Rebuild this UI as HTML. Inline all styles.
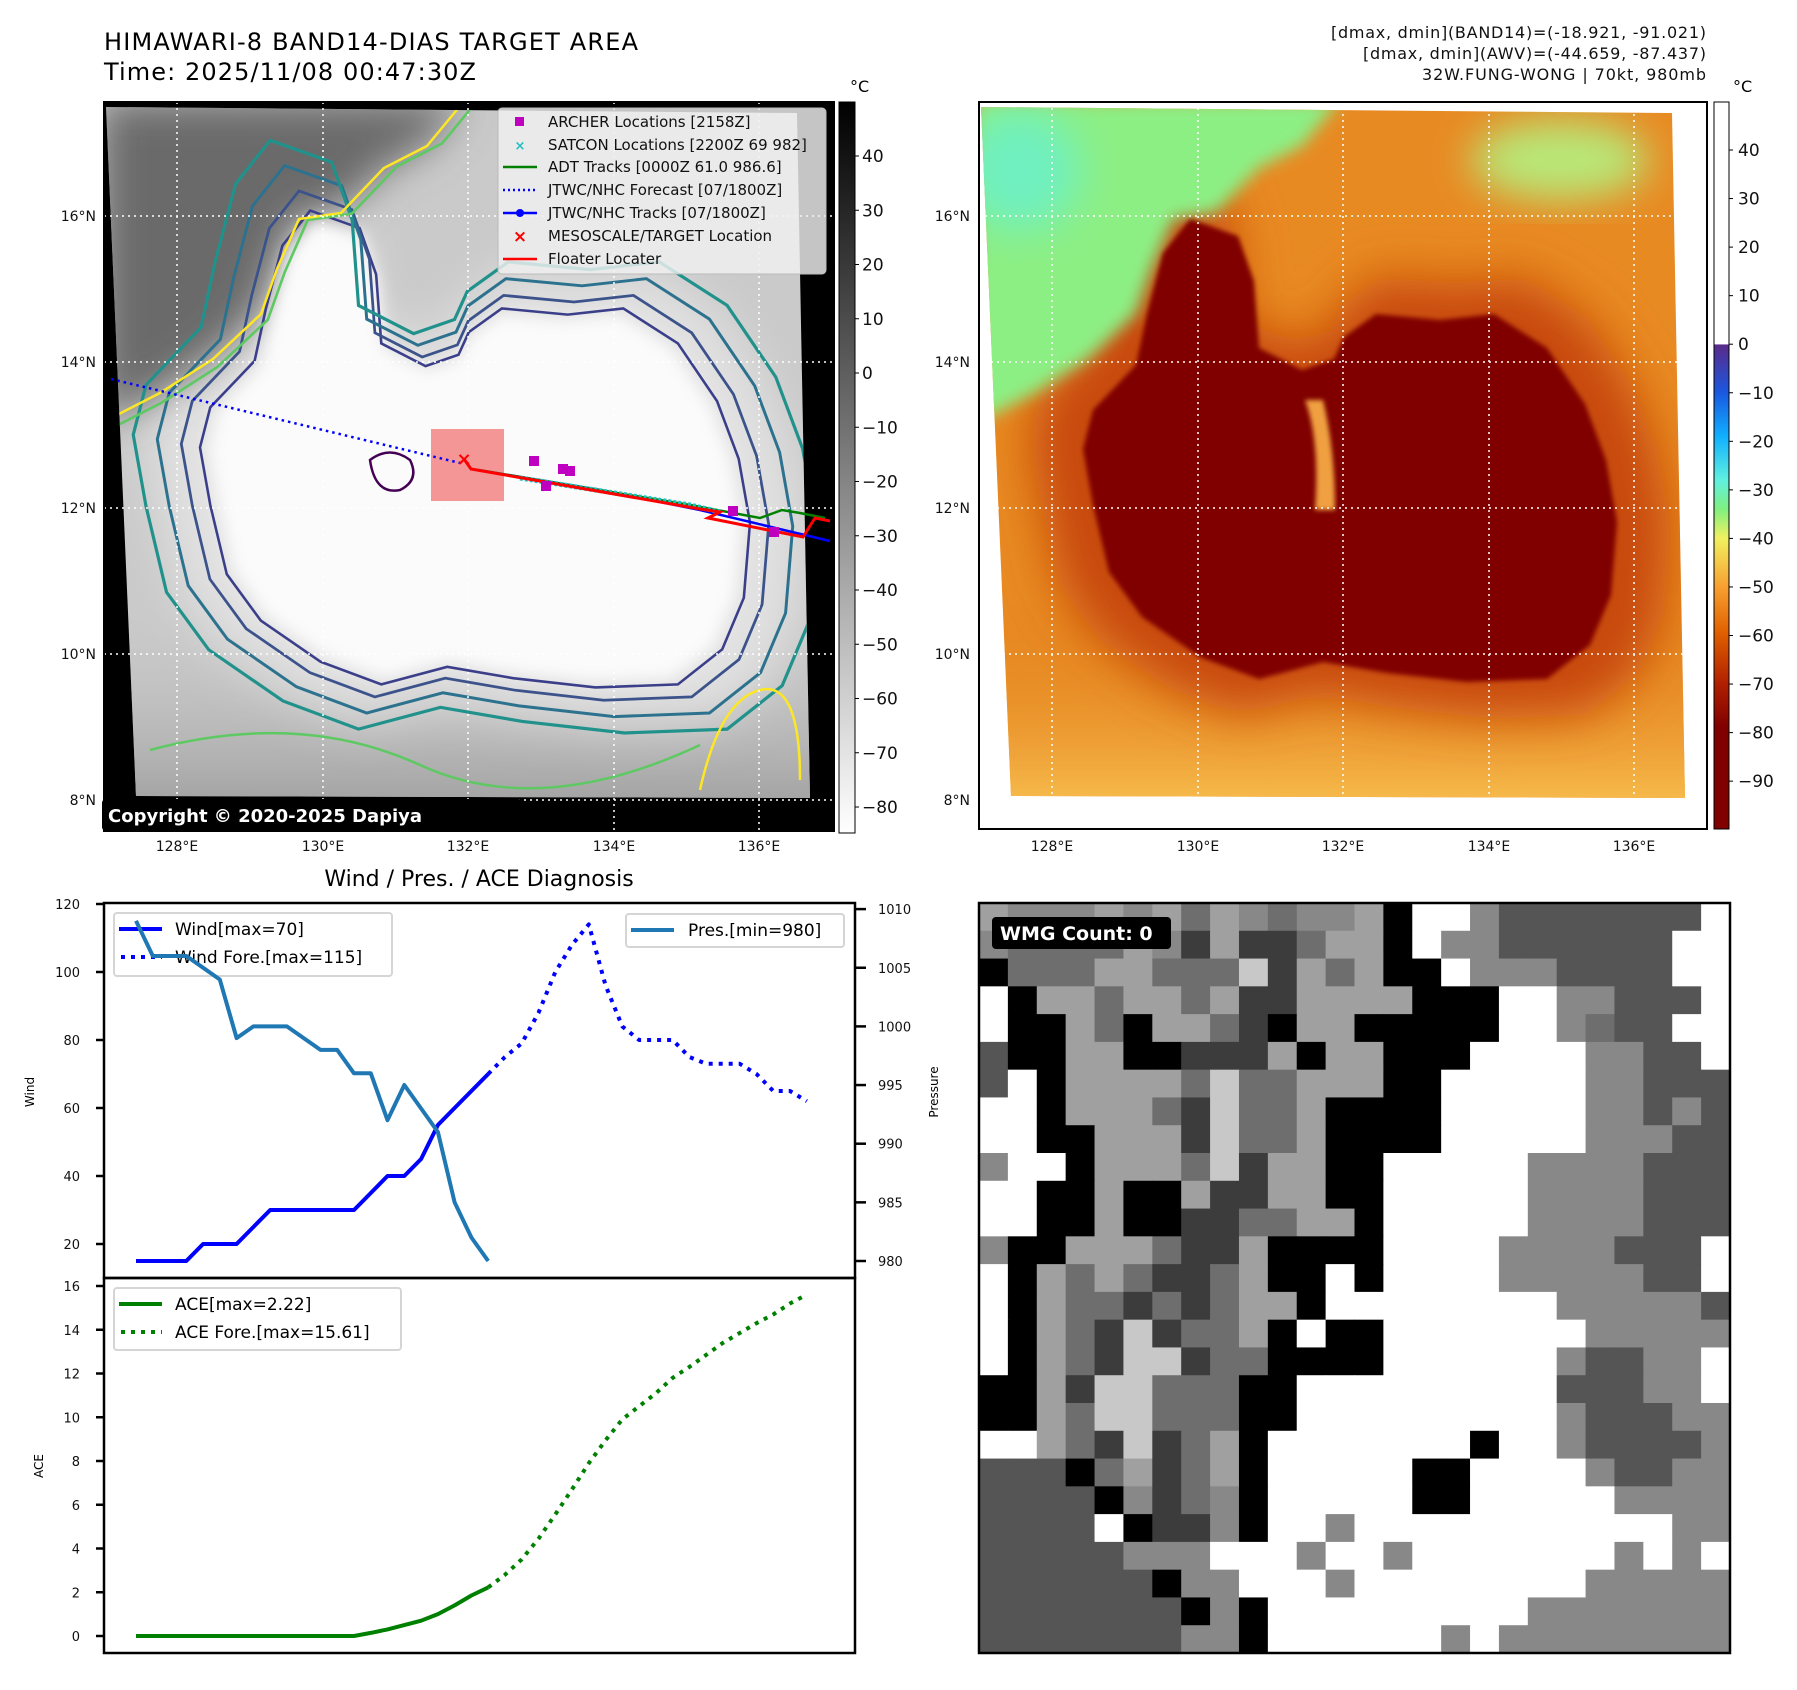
<!DOCTYPE html>
<html><head><meta charset="utf-8">
<style>
html,body{margin:0;padding:0;background:#fff;}
svg{display:block;font-family:"DejaVu Sans","Liberation Sans",sans-serif;}
</style></head>
<body>
<svg id="root" width="1797" height="1690" viewBox="0 0 1797 1690" xmlns="http://www.w3.org/2000/svg">
<defs>
  <linearGradient id="cbGray" x1="0" y1="0" x2="0" y2="1">
    <stop offset="0" stop-color="#000"/><stop offset="1" stop-color="#fff"/>
  </linearGradient>
  <linearGradient id="cbColor" x1="0" y1="0" x2="0" y2="1">
    <stop offset="0" stop-color="#fff"/>
    <stop offset="0.333" stop-color="#fff"/>
    <stop offset="0.334" stop-color="#5a2a8a"/>
    <stop offset="0.40" stop-color="#1a58e0"/>
    <stop offset="0.46" stop-color="#10b0ff"/>
    <stop offset="0.52" stop-color="#60f0e0"/>
    <stop offset="0.56" stop-color="#80f080"/>
    <stop offset="0.60" stop-color="#f0f060"/>
    <stop offset="0.667" stop-color="#f8a030"/>
    <stop offset="0.73" stop-color="#e06000"/>
    <stop offset="0.80" stop-color="#b02000"/>
    <stop offset="0.86" stop-color="#800000"/>
    <stop offset="1" stop-color="#800000"/>
  </linearGradient>
  <linearGradient id="bottomWarm" x1="0" y1="0" x2="0" y2="1">
    <stop offset="0" stop-color="#e07818" stop-opacity="0"/>
    <stop offset="1" stop-color="#f8c050"/>
  </linearGradient>
  <linearGradient id="bottomGray" x1="0" y1="0" x2="0" y2="1">
    <stop offset="0" stop-color="#c8c8c8" stop-opacity="0"/>
    <stop offset="1" stop-color="#a0a0a0"/>
  </linearGradient>
  <filter id="blur8" x="-20%" y="-20%" width="140%" height="140%"><feGaussianBlur stdDeviation="8"/></filter>
  <filter id="blur20" x="-30%" y="-30%" width="160%" height="160%"><feGaussianBlur stdDeviation="20"/></filter>
  <filter id="blur3"><feGaussianBlur stdDeviation="2.5"/></filter>
  <clipPath id="clipR"><polygon points="981,107 1672,113 1685,798 1011,796"/></clipPath>
  <clipPath id="clipL"><polygon points="106,107 797,113 810,798 136,796"/></clipPath>
  <polygon id="core" points="1190,219 1238,236 1254,281 1259,348 1302,370 1334,359 1344,337 1376,314 1440,320 1494,314 1547,348 1585,404 1606,460 1617,522 1611,595 1590,645 1547,679 1467,682 1387,673 1323,662 1259,679 1200,657 1142,617 1109,572 1093,505 1083,449 1093,410 1136,365 1147,314 1163,253"/>
  <polygon id="cold" points="975,100 1340,100 1302,146 1259,168 1216,213 1174,219 1152,269 1136,314 1088,359 1035,393 992,415 975,420"/>
</defs>

<!-- ============ TOP-LEFT MAP ============ -->
<g>
  <text x="104" y="50" font-size="24" textLength="534">HIMAWARI-8 BAND14-DIAS TARGET AREA</text>
  <text x="104" y="80" font-size="24" textLength="372">Time: 2025/11/08 00:47:30Z</text>
  <rect x="104" y="102" width="730" height="729" fill="#000"/>
  <g clip-path="url(#clipL)">
    <rect x="100" y="100" width="720" height="710" fill="#cacaca"/>
    <rect x="100" y="600" width="720" height="210" fill="url(#bottomGray)"/>
    <use href="#core" transform="translate(-875,0) translate(1350,500) scale(1.22) translate(-1350,-500)" fill="#e2e2e2" filter="url(#blur20)"/>
    <use href="#cold" transform="translate(-875,0)" fill="#6a6a6a" filter="url(#blur20)"/>
    <use href="#core" transform="translate(-875,0)" fill="#fbfbfb" filter="url(#blur8)"/>
    <!-- contours -->
    <use href="#core" transform="translate(-875,0) translate(1350,500) scale(1.03) translate(-1350,-500)" fill="none" stroke="#3b3f8a" stroke-width="2.5"/>
    <use href="#core" transform="translate(-875,0) translate(1350,500) scale(1.1) translate(-1350,-500)" fill="none" stroke="#3b528b" stroke-width="2.5"/>
    <use href="#core" transform="translate(-875,0) translate(1350,500) scale(1.19) translate(-1350,-500)" fill="none" stroke="#2c728e" stroke-width="2.5"/>
    <use href="#core" transform="translate(-875,0) translate(1350,500) scale(1.28) translate(-1350,-500)" fill="none" stroke="#21918c" stroke-width="2.5"/>
    <use href="#cold" transform="translate(-875,0) translate(1000,200) scale(1.05) translate(-1000,-200)" fill="none" stroke="#5ec962" stroke-width="2.5"/>
    <use href="#cold" transform="translate(-875,0)" fill="none" stroke="#fde725" stroke-width="2.5"/>
    <path d="M150,750 Q300,710 420,765 T700,745" fill="none" stroke="#5ec962" stroke-width="2.5"/>
    <path d="M700,790 Q720,700 760,690 T800,780" fill="none" stroke="#fde725" stroke-width="2.5"/>
    <path d="M370,460 q20,-15 40,0 q10,20 -10,30 q-25,5 -30,-30z" fill="none" stroke="#440154" stroke-width="2.5"/>
  </g>
  <g stroke="#fff" stroke-width="1.5" stroke-dasharray="2 4">
    <line x1="177" y1="102" x2="177" y2="831"/><line x1="323" y1="102" x2="323" y2="831"/><line x1="468" y1="102" x2="468" y2="831"/><line x1="614" y1="102" x2="614" y2="831"/><line x1="759" y1="102" x2="759" y2="831"/>
    <line x1="104" y1="216" x2="834" y2="216"/><line x1="104" y1="362" x2="834" y2="362"/><line x1="104" y1="508" x2="834" y2="508"/><line x1="104" y1="654" x2="834" y2="654"/><line x1="104" y1="800" x2="834" y2="800"/>
  </g>
  <g>
    <rect x="431" y="429" width="73" height="72" fill="#f06060" fill-opacity="0.65"/>
    <line x1="111" y1="379" x2="460" y2="463" stroke="#0000ff" stroke-width="2.5" stroke-dasharray="2.5 4"/>
    <polyline points="478,470 600,490 700,510 830,541" fill="none" stroke="#0000ff" stroke-width="2.5"/>
    <polyline points="478,470 690,505 760,518 782,510 800,513 825,518" fill="none" stroke="#008000" stroke-width="2.5"/>
    <polyline points="520,478 690,505 720,512" fill="none" stroke="#20c0c0" stroke-width="5" stroke-dasharray="3 2"/>
    <polyline points="464,459 471,469 700,509 720,512 708,518 803,537 815,518 830,521" fill="none" stroke="#ff0000" stroke-width="3"/>
    <text x="464" y="465" font-size="18" font-weight="bold" fill="#ff0000" text-anchor="middle">×</text>
    <g fill="#c000c0">
      <rect x="529" y="456" width="10" height="10"/><rect x="541" y="481" width="10" height="10"/><rect x="558" y="464" width="10" height="10"/><rect x="565" y="466" width="10" height="10"/><rect x="728" y="506" width="10" height="10"/><rect x="769" y="527" width="10" height="10"/>
    </g>
  </g>
  <g>
    <rect x="498" y="108" width="328" height="166" rx="4" fill="#f0f0f0" fill-opacity="0.82" stroke="#bbb"/>
    <g font-size="15" fill="#111">
      <rect x="515" y="117" width="9" height="9" fill="#c000c0"/>
      <text x="548" y="127">ARCHER Locations [2158Z]</text>
      <text x="520" y="150" fill="#20c0c0" font-size="13" text-anchor="middle" font-weight="bold">×</text>
      <text x="548" y="150">SATCON Locations [2200Z 69 982]</text>
      <line x1="503" y1="167" x2="537" y2="167" stroke="#008000" stroke-width="2.5"/>
      <text x="548" y="172">ADT Tracks [0000Z 61.0 986.6]</text>
      <line x1="503" y1="190" x2="537" y2="190" stroke="#0000ff" stroke-width="2.5" stroke-dasharray="2 3"/>
      <text x="548" y="195">JTWC/NHC Forecast [07/1800Z]</text>
      <line x1="503" y1="213" x2="537" y2="213" stroke="#0000ff" stroke-width="2.5"/><circle cx="520" cy="213" r="4" fill="#0000ff"/>
      <text x="548" y="218">JTWC/NHC Tracks [07/1800Z]</text>
      <text x="520" y="242" fill="#ff0000" font-size="17" font-weight="bold" text-anchor="middle">×</text>
      <text x="548" y="241">MESOSCALE/TARGET Location</text>
      <line x1="503" y1="259" x2="537" y2="259" stroke="#ff0000" stroke-width="2.5"/>
      <text x="548" y="264">Floater Locater</text>
    </g>
  </g>
  <rect x="102" y="799" width="420" height="32" rx="4" fill="#000"/>
  <text x="108" y="822" font-size="18" font-weight="bold" fill="#fff">Copyright © 2020-2025 Dapiya</text>
  <rect x="104" y="102" width="730" height="729" fill="none" stroke="#000" stroke-width="2"/>
  <g font-size="14" fill="#111" text-anchor="end">
    <text x="96" y="221">16°N</text><text x="96" y="367">14°N</text><text x="96" y="513">12°N</text><text x="96" y="659">10°N</text><text x="96" y="805">8°N</text>
  </g>
  <g font-size="14" fill="#111" text-anchor="middle">
    <text x="177" y="851">128°E</text><text x="323" y="851">130°E</text><text x="468" y="851">132°E</text><text x="614" y="851">134°E</text><text x="759" y="851">136°E</text>
  </g>
  <rect x="839" y="102" width="16" height="731" fill="url(#cbGray)" stroke="#000" stroke-width="1"/>
  <text x="850" y="92" font-size="16">°C</text>
  <g id="cbLeftTicks" font-size="17" fill="#111"></g>
</g>

<!-- ============ TOP-RIGHT MAP ============ -->
<g>
  <g font-size="16" text-anchor="end" fill="#111">
    <text x="1706" y="38" textLength="375">[dmax, dmin](BAND14)=(-18.921, -91.021)</text>
    <text x="1706" y="59" textLength="343">[dmax, dmin](AWV)=(-44.659, -87.437)</text>
    <text x="1706" y="80" textLength="284">32W.FUNG-WONG | 70kt, 980mb</text>
  </g>
  <rect x="979" y="102" width="728" height="727" fill="#fff"/>
  <g clip-path="url(#clipR)">
    <rect x="975" y="100" width="720" height="710" fill="#e88a22"/>
    <rect x="975" y="600" width="720" height="210" fill="url(#bottomWarm)"/>
    <use href="#core" transform="translate(1350,500) scale(1.2) translate(-1350,-500)" fill="#c84a10" filter="url(#blur20)"/>
    <use href="#cold" fill="#8cef84" filter="url(#blur8)"/>
    <ellipse cx="1020" cy="170" rx="60" ry="60" fill="#70f0c0" filter="url(#blur20)"/>
    <ellipse cx="1560" cy="160" rx="90" ry="40" fill="#b8e878" filter="url(#blur20)"/>
    <use href="#core" fill="#800000" filter="url(#blur3)"/>
    <path d="M1305,400 q15,40 10,110 l20,0 q0,-60 -12,-110z" fill="#f0a040" filter="url(#blur3)"/>
  </g>
  <g stroke="#fff" stroke-width="1.5" stroke-dasharray="2 4">
    <line x1="1052" y1="102" x2="1052" y2="829"/><line x1="1198" y1="102" x2="1198" y2="829"/><line x1="1343" y1="102" x2="1343" y2="829"/><line x1="1489" y1="102" x2="1489" y2="829"/><line x1="1634" y1="102" x2="1634" y2="829"/>
    <line x1="979" y1="216" x2="1707" y2="216"/><line x1="979" y1="362" x2="1707" y2="362"/><line x1="979" y1="508" x2="1707" y2="508"/><line x1="979" y1="654" x2="1707" y2="654"/><line x1="979" y1="800" x2="1707" y2="800"/>
  </g>
  <rect x="979" y="102" width="728" height="727" fill="none" stroke="#000" stroke-width="2"/>
  <g font-size="14" fill="#111" text-anchor="end">
    <text x="970" y="221">16°N</text><text x="970" y="367">14°N</text><text x="970" y="513">12°N</text><text x="970" y="659">10°N</text><text x="970" y="805">8°N</text>
  </g>
  <g font-size="14" fill="#111" text-anchor="middle">
    <text x="1052" y="851">128°E</text><text x="1198" y="851">130°E</text><text x="1343" y="851">132°E</text><text x="1489" y="851">134°E</text><text x="1634" y="851">136°E</text>
  </g>
  <rect x="1714" y="102" width="15" height="727" fill="url(#cbColor)" stroke="#000" stroke-width="1"/>
  <text x="1733" y="92" font-size="16">°C</text>
  <g id="cbRightTicks" font-size="17" fill="#111"></g>
</g>

<!-- ============ DIAGNOSIS CHART ============ -->
<g>
  <text x="479" y="886" font-size="22" text-anchor="middle">Wind / Pres. / ACE Diagnosis</text>
  <g>
    <rect x="114" y="913" width="278" height="63" rx="3" fill="#fff" stroke="#d5d5d5" stroke-width="2"/>
    <line x1="119" y1="929" x2="162" y2="929" stroke="#0000ff" stroke-width="4"/>
    <text x="175" y="935" font-size="17">Wind[max=70]</text>
    <line x1="121" y1="957" x2="162" y2="957" stroke="#0000ff" stroke-width="4" stroke-dasharray="4 6"/>
    <text x="175" y="963" font-size="17">Wind Fore.[max=115]</text>
  </g>
  <g>
    <rect x="626" y="914" width="218" height="33" rx="3" fill="#fff" stroke="#d5d5d5" stroke-width="2"/>
    <line x1="631" y1="930" x2="674" y2="930" stroke="#1f77b4" stroke-width="4"/>
    <text x="688" y="936" font-size="17">Pres.[min=980]</text>
  </g>
  <g>
    <rect x="114" y="1288" width="287" height="62" rx="3" fill="#fff" stroke="#d5d5d5" stroke-width="2"/>
    <line x1="119" y1="1304" x2="162" y2="1304" stroke="#008000" stroke-width="4"/>
    <text x="175" y="1310" font-size="17">ACE[max=2.22]</text>
    <line x1="121" y1="1332" x2="162" y2="1332" stroke="#008000" stroke-width="4" stroke-dasharray="4 6"/>
    <text x="175" y="1338" font-size="17">ACE Fore.[max=15.61]</text>
  </g>
  <g id="chartMarks"></g>
  <rect x="104" y="903" width="751" height="375" fill="none" stroke="#000" stroke-width="2.5"/>
  <rect x="104" y="1278" width="751" height="375" fill="none" stroke="#000" stroke-width="2.5"/>
  <text transform="translate(34,1092) rotate(-90)" font-size="12" text-anchor="middle">Wind</text>
  <text transform="translate(938,1092) rotate(-90)" font-size="12" text-anchor="middle">Pressure</text>
  <text transform="translate(43,1466) rotate(-90)" font-size="12" text-anchor="middle">ACE</text>
</g>

<!-- ============ WMG PANEL ============ -->
<g>
  <g id="wmgCells"></g>
  <rect x="979" y="903" width="751" height="750" fill="none" stroke="#000" stroke-width="2.5"/>
  <rect x="992" y="917" width="179" height="32" rx="4" fill="#000"/>
  <text x="1000" y="940" font-size="19" font-weight="bold" fill="#fff">WMG Count: 0</text>
</g>

<script>
const windObs = [15,15,15,15,20,20,20,25,30,30,30,30,30,30,35,40,40,45,55,60,65,70];
const windFc = [70,75,79,88,100,108,114,96,84,80,80,80,75,73,73,73,70,65,65,62];
const presObs = [1009,1006,1006,1006,1005,1004,999,1000,1000,1000,999,998,998,996,996,992,995,993,991,985,982,980];
const aceObs = [0,0,0,0,0,0,0,0,0,0,0,0,0,0,0.14,0.3,0.5,0.7,1.0,1.4,1.85,2.22];
const aceFc = [2.22,2.8,3.5,4.45,5.56,6.7,7.9,8.95,9.9,10.5,11.1,11.8,12.3,12.85,13.4,13.85,14.3,14.7,15.2,15.61];
const windTicks = [20,40,60,80,100,120];
const presTicks = [980,985,990,995,1000,1005,1010];
const aceTicks = [0,2,4,6,8,10,12,14,16];
const grayCbTicks = [40,30,20,10,0,-10,-20,-30,-40,-50,-60,-70,-80];
const colorCbTicks = [40,30,20,10,0,-10,-20,-30,-40,-50,-60,-70,-80,-90];

const NS = 'http://www.w3.org/2000/svg';
function xS(i){ return 136 + i*16.77; }
function yW(v){ return 1244 - (v-20)*3.4; }
function yP(p){ return 1261 - (p-980)*11.73; }
function yA(a){ return 1636 - a*21.875; }
function mk(tag, attrs, parent){ const e=document.createElementNS(NS,tag); for(const k in attrs) e.setAttribute(k,attrs[k]); parent.appendChild(e); return e; }
function fmt(v){ return v<0 ? '\u2212'+Math.abs(v) : String(v); }

const marks = document.getElementById('chartMarks');
function line(vals, off, yf, color, dashed, name){
  const pts = vals.map((v,i)=> xS(i+off).toFixed(1)+','+yf(v).toFixed(1)).join(' ');
  const a = {points:pts, fill:'none', stroke:color, 'stroke-width':4, 'stroke-linejoin':'round'};
  if(dashed) a['stroke-dasharray']='4 6';
  const el = mk('polyline', a, marks);
  
  
}
line(windObs, 0, yW, '#0000ff', false, 'wind-observed-line');
line(windFc, windObs.length-1, yW, '#0000ff', true, 'wind-forecast-line');
line(presObs, 0, yP, '#1f77b4', false, 'pressure-line');
line(aceObs, 0, yA, '#008000', false, 'ace-observed-line');
line(aceFc, aceObs.length-1, yA, '#008000', true, 'ace-forecast-line');

function ticks(list, yf, side, name){
  const g = mk('g', {'font-size':13, fill:'#111'}, marks);
  
  
  list.forEach(v=>{
    const y=yf(v);
    if(side==='left'){
      mk('line',{x1:96,y1:y,x2:104,y2:y,stroke:'#000','stroke-width':2.5},g);
      const t=mk('text',{x:80,y:y+5,'text-anchor':'end'},g); t.textContent=v;
    } else {
      mk('line',{x1:855,y1:y,x2:866,y2:y,stroke:'#000','stroke-width':2.5},g);
      const t=mk('text',{x:878,y:y+5},g); t.textContent=v;
    }
  });
}
ticks(windTicks, yW, 'left', 'wind-y-ticks');
ticks(presTicks, yP, 'right', 'pressure-y-ticks');
ticks(aceTicks, yA, 'left', 'ace-y-ticks');

const gl = document.getElementById('cbLeftTicks');
grayCbTicks.forEach(v=>{
  const y = 156 + (40-v)*5.425;
  mk('line',{x1:855,y1:y,x2:859,y2:y,stroke:'#000'},gl);
  const t=mk('text',{x:862,y:y+6},gl); t.textContent=fmt(v);
});
const gr = document.getElementById('cbRightTicks');
colorCbTicks.forEach(v=>{
  const y = 150 + (40-v)*4.855;
  mk('line',{x1:1729,y1:y,x2:1733,y2:y,stroke:'#000'},gr);
  const t=mk('text',{x:1738,y:y+6},gr); t.textContent=fmt(v);
});

const wmgRows = [
"54445453543445KWW42222222W",
"43333541511355 5KW44222222W".replace(' 5',''),
"K3335533361535 5KKW4442222W".replace(' 5',''),
"WK5535535115555KKKWW44222W",
"WKK53K5531 5K55KKKKKWW4322W".replace(' 5',''),
"2KK55KK1115K55KKKWWWW4422W",
"2WK55553633555KKWWWWW44222",
"WWK555316335KKKKWWWWW44242",
"WWKK55516335KKKKWWWWW44422",
"4WWK55536155KKWWWWW4444222",
"WWKK5KK51155KKWWWWW4444222",
"WWKK5KK113355KWWWWW4444222",
"4KK555311 35KKKKWWWW4444222".replace(' 3',''),
"WK53531135 5KKWKWWWW4444422".replace(' 5',''),
"WK533131355KWWWWWWWW444442",
"WK53161335KWKKWWWWWWW44444",
"WK53166133 5KKKKWWWWWW42244".replace(' 5',''),
"KK5166333 5KKWWWWWWWWW22244".replace(' 5',''),
"KK5366333KKWWWWWWWWW422244",
"WW5316135KWWWWWWWKWW422224",
"222K35135KWWWWWKKWWWW42244",
"2222K4134KWWWWWKKWWWWW4444",
"2222WK114KWW4WWWWWWWWWWW44",
"2222244 34WWW4WW4WWWWWWW4W4".replace(' 3',''),
"222222K44WWW4WWWWWWWW44444",
"2222222K4KWWWWWWWWW4444444",
"222222244KWWWWWW4W44444444"
];
const shades = {'W':'#ffffff','K':'#000000','1':'#3c3c3c','2':'#555555','3':'#6e6e6e','4':'#888888','5':'#a0a0a0','6':'#c8c8c8'};
const wg = document.getElementById('wmgCells');
const cw = 751/26, ch = 750/27;
wmgRows.forEach((row,r)=>{
  for(let c=0;c<26;c++){
    const k = row[c] || 'W';
    const el = mk('rect',{x:(979+c*cw).toFixed(2), y:(903+r*ch).toFixed(2), width:(cw+0.6).toFixed(2), height:(ch+0.6).toFixed(2), fill:shades[k]||'#888'}, wg);
    
    
  }
});
</script>
</svg>
</body></html>
